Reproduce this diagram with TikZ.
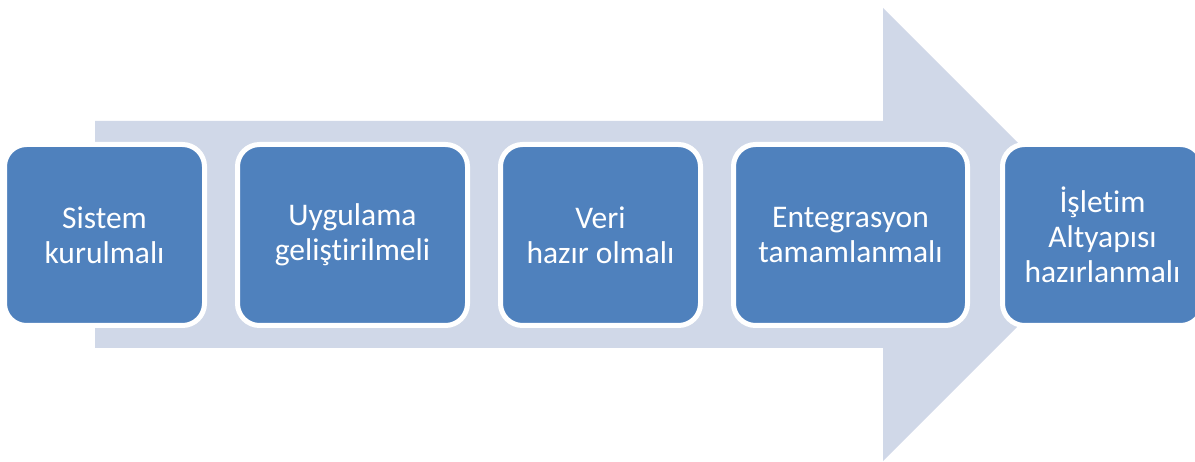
\documentclass[tikz,border=0pt]{standalone}
\usepackage{fontspec}
\setmainfont{Carlito}[Ligatures={NoCommon,NoRequired,NoContextual}]
\definecolor{stageblue}{HTML}{4F81BD}
\definecolor{arrowgray}{HTML}{D0D8E8}
\tikzset{
  stage/.style={rectangle, rounded corners=22pt, fill=stageblue, draw=white,
    line width=5pt, minimum height=181pt, text=white, align=center,
    font=\fontsize{31.5}{35}\selectfont, inner sep=0pt}
}

\begin{document}
\begin{tikzpicture}[x=1pt,y=-1pt]
  \useasboundingbox (0,0) rectangle (1195,462);

  % The broad arrow behind the stages.
  \fill[arrowgray] (95,121) -- (883,121) -- (883,8) -- (1109.5,234.5)
    -- (883,461) -- (883,348) -- (95,348) -- cycle;

  % Stages, left to right.
  \node[stage,minimum width=200pt] (sistem) at (104.5,235) {Sistem\\kurulmalı};
  \node[stage,minimum width=230pt] (uygulama) at (352.5,235) {Uygulama\\gelişt{\kern0pt}irilmeli};
  \node[stage,minimum width=200pt] (veri) at (600.5,235) {Veri\\hazır olmalı};
  \node[stage,minimum width=234pt] (entegrasyon) at (850.5,235) {Entegrasyon\\tamamlanmalı};
  \node[stage,minimum width=200pt] (isletim) at (1102.5,235) {İşletim\\Altyapısı\\hazırlanmalı};
\end{tikzpicture}
\end{document}
